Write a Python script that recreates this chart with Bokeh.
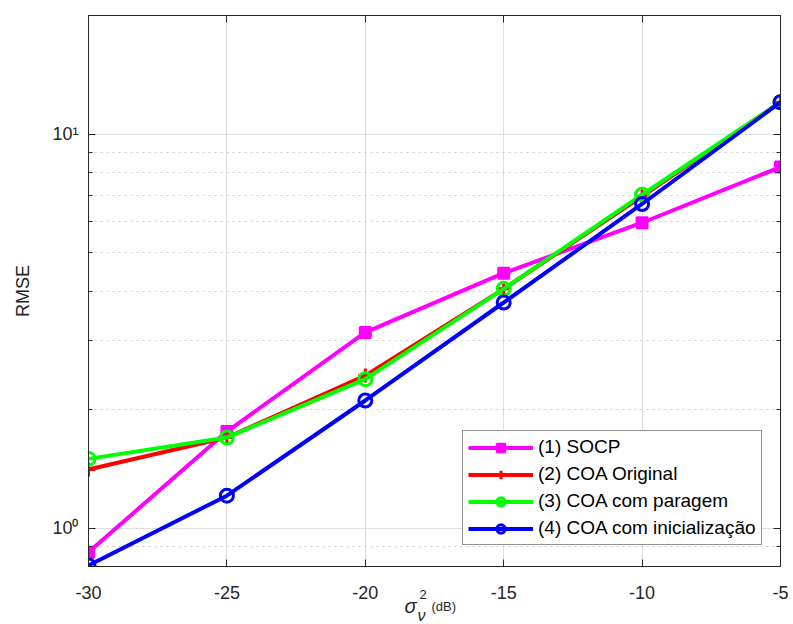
from bokeh.plotting import figure
from bokeh.layouts import column
from bokeh.models import (Legend, LegendItem, LinearAxis, LogAxis, Range1d,
                          FixedTicker, CustomJSTickFormatter)
from bokeh.core.properties import value
from bokeh.embed import file_html
from bokeh.resources import INLINE

# Noise level (dB) and RMSE per method
noise_db = [-30, -25, -20, -15, -10, -5]
rmse_socp = [0.87, 1.76, 3.14, 4.44, 5.96, 8.25]
rmse_coa_original = [1.41, 1.70, 2.44, 4.05, 6.95, 12.05]
rmse_coa_paragem = [1.50, 1.70, 2.39, 4.05, 7.02, 12.05]
rmse_coa_init = [0.805, 1.21, 2.11, 3.74, 6.65, 12.05]

x_ticks = [-30, -25, -20, -15, -10, -5]
x_tick_labels = [str(t) for t in x_ticks]
y_major = [1, 10]
y_minor = [0.8, 0.9, 2, 3, 4, 5, 6, 7, 8, 9, 20]
y_tick_labels = {1: "10\u2070", 10: "10\u00b9"}

FONT = "Liberation Sans"
AXIS_COLOR = "#262626"
W, H = 793, 624
LEFT, RIGHT, TOP = 88, 13, 15
FRAME_BOTTOM = 566
MAIN_BOTTOM_BORDER = 4
H_MAIN = FRAME_BOTTOM + MAIN_BOTTOM_BORDER
H_STRIP = H - H_MAIN
X0, X1 = -30, -5

p = figure(width=W, height=H_MAIN,
           x_range=Range1d(X0, X1), y_range=Range1d(0.8, 20),
           y_axis_type="log", output_backend="svg", toolbar_location=None,
           min_border_left=LEFT, min_border_right=RIGHT,
           min_border_top=TOP, min_border_bottom=MAIN_BOTTOM_BORDER)

p.outline_line_color = AXIS_COLOR
p.outline_line_width = 1
p.background_fill_color = "white"
p.border_fill_color = "white"

blank = CustomJSTickFormatter(code="return ''")

# Bottom axis: tick marks only, its labels sit in the strip below
xa = p.xaxis[0]
xa.ticker = FixedTicker(ticks=x_ticks)
xa.formatter = blank
xa.major_label_text_font_size = "1px"
xa.major_label_standoff = 0
xa.major_tick_in = 7
xa.major_tick_out = 0
xa.minor_tick_line_color = None
xa.axis_line_color = AXIS_COLOR
xa.major_tick_line_color = AXIS_COLOR

# Left axis
y_ticker = FixedTicker(ticks=y_major, minor_ticks=y_minor)
ya = p.yaxis[0]
ya.ticker = y_ticker
ya.major_label_overrides = y_tick_labels
ya.major_label_text_font = FONT
ya.major_label_text_font_size = "18px"
ya.major_label_text_color = AXIS_COLOR
ya.major_label_standoff = 10
ya.major_tick_in = 7
ya.major_tick_out = 0
ya.minor_tick_in = 4
ya.minor_tick_out = 0
ya.axis_line_color = AXIS_COLOR
ya.major_tick_line_color = AXIS_COLOR
ya.minor_tick_line_color = AXIS_COLOR
ya.axis_label = "RMSE"
ya.axis_label_text_font = FONT
ya.axis_label_text_font_size = "18px"
ya.axis_label_text_font_style = "normal"
ya.axis_label_text_color = AXIS_COLOR
ya.axis_label_standoff = 16

# Box axes on top and right (ticks only)
top = LinearAxis(ticker=FixedTicker(ticks=x_ticks), formatter=blank,
                 major_tick_in=7, major_tick_out=0, minor_tick_line_color=None,
                 axis_line_color=AXIS_COLOR, major_tick_line_color=AXIS_COLOR,
                 major_label_standoff=0)
p.add_layout(top, "above")
right = LogAxis(ticker=FixedTicker(ticks=y_major, minor_ticks=y_minor), formatter=blank,
                major_tick_in=7, major_tick_out=0, minor_tick_in=4, minor_tick_out=0,
                axis_line_color=AXIS_COLOR, major_tick_line_color=AXIS_COLOR,
                minor_tick_line_color=AXIS_COLOR, major_label_standoff=0)
p.add_layout(right, "right")

# Grid
p.xgrid.ticker = FixedTicker(ticks=x_ticks)
p.xgrid.grid_line_color = "#dedede"
p.xgrid.grid_line_width = 1
p.ygrid.ticker = y_ticker
p.ygrid.grid_line_color = "#dedede"
p.ygrid.grid_line_width = 1
p.ygrid.minor_grid_line_color = "#cfcfcf"
p.ygrid.minor_grid_line_dash = "2 4"
p.ygrid.minor_grid_line_width = 1

LW = 4
# (1) SOCP
l1 = p.line(noise_db, rmse_socp, line_color="#ff00ff", line_width=LW)
m1 = p.scatter(noise_db, rmse_socp, marker="square", size=11,
               fill_color="#ff00ff", line_color="#ff00ff", line_width=2)
# (2) COA Original
l2 = p.line(noise_db, rmse_coa_original, line_color="#ff0000", line_width=LW)
m2 = p.scatter(noise_db, rmse_coa_original, marker="cross", size=14,
               line_color="#ff0000", line_width=3)
# (3) COA com paragem
l3 = p.line(noise_db, rmse_coa_paragem, line_color="#00ff00", line_width=LW)
m3 = p.scatter(noise_db, rmse_coa_paragem, marker="circle", size=13,
               fill_color=None, line_color="#00ff00", line_width=3)
# (4) COA com inicialização
l4 = p.line(noise_db, rmse_coa_init, line_color="#0000ff", line_width=LW)
m4 = p.scatter(noise_db, rmse_coa_init, marker="circle", size=13,
               fill_color=None, line_color="#0000ff", line_width=3)

legend = Legend(items=[
    LegendItem(label="(1) SOCP", renderers=[l1, m1]),
    LegendItem(label="(2) COA Original", renderers=[l2, m2]),
    LegendItem(label="(3) COA com paragem", renderers=[l3, m3]),
    LegendItem(label="(4) COA com inicialização", renderers=[l4, m4]),
], location=(374, 21))
legend.label_text_font = FONT
legend.label_text_font_size = "19px"
legend.label_text_color = "#000000"
legend.label_height = 21
legend.glyph_width = 65
legend.glyph_height = 21
legend.spacing = 5
legend.label_standoff = 5
legend.padding = 5
legend.margin = 0
legend.border_line_color = AXIS_COLOR
legend.border_line_width = 1
legend.background_fill_color = "white"
legend.background_fill_alpha = 1
p.add_layout(legend, "center")

# Strip under the plot: x tick labels and the axis title sigma_nu^2 (dB).
# Its x scale continues the plot's scale across the full width.
units_per_px = (X1 - X0) / (W - LEFT - RIGHT)
strip = figure(width=W, height=H_STRIP,
               x_range=Range1d(X0 - LEFT * units_per_px, X1 + RIGHT * units_per_px),
               y_range=Range1d(H_STRIP, 0), output_backend="svg",
               toolbar_location=None, min_border=0)
strip.axis.visible = False
strip.grid.visible = False
strip.outline_line_color = None
strip.background_fill_color = "white"
strip.border_fill_color = "white"
# keep the strip's frame spanning its whole width
if "frame_align" in strip.properties():
    strip.frame_align = False
    p.frame_align = False


def px(x_canvas):
    return X0 + (x_canvas - LEFT) * units_per_px


def py(y_canvas):
    return y_canvas - H_MAIN


common = dict(text_color=AXIS_COLOR, text_font=value(FONT),
              text_baseline="middle")
strip.text(x=x_ticks, y=[py(592)] * len(x_ticks), text=x_tick_labels,
           text_font_size="18px", text_align="center", **common)
strip.text(x=[px(404)], y=[py(605)], text=["σ"], text_font_size="20px",
           text_font_style="italic", text_align="left", **common)
strip.text(x=[px(419)], y=[py(594)], text=["2"], text_font_size="13px",
           text_align="left", **common)
strip.text(x=[px(417)], y=[py(615)], text=["ν"], text_font_size="16px",
           text_font_style="italic", text_align="left", **common)
strip.text(x=[px(431)], y=[py(606)], text=["(dB)"], text_font_size="13px",
           text_align="left", **common)

layout = column(p, strip, spacing=0)
open("out.html", "w").write(file_html(layout, INLINE))
